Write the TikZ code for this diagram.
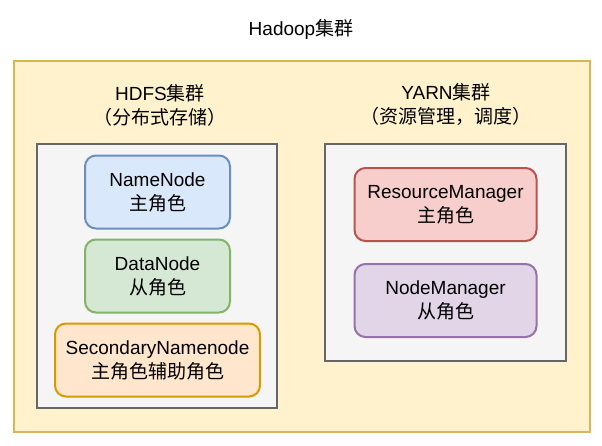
\documentclass[tikz,border=0pt]{standalone}
\usepackage{fontspec}
\setmainfont{Liberation Sans}
\newfontfamily\cjk{Noto Sans CJK SC}
\definecolor{ofill}{HTML}{FFF2CC}
\definecolor{ostroke}{HTML}{D6B656}
\definecolor{gfill}{HTML}{F5F5F5}
\definecolor{gstroke}{HTML}{666666}
\definecolor{bfill}{HTML}{DAE8FC}
\definecolor{bstroke}{HTML}{6C8EBF}
\definecolor{grfill}{HTML}{D5E8D4}
\definecolor{grstroke}{HTML}{82B366}
\definecolor{orfill}{HTML}{FFE6CC}
\definecolor{orstroke}{HTML}{D79B00}
\definecolor{rfill}{HTML}{F8CECC}
\definecolor{rstroke}{HTML}{B85450}
\definecolor{pfill}{HTML}{E1D5E7}
\definecolor{pstroke}{HTML}{9673A6}
\begin{document}
\begin{tikzpicture}[x=1pt,y=-1pt,
  txt/.style={font=\fontsize{19}{24}\selectfont, align=center, inner sep=0pt},
  role/.style={txt, rounded corners=11pt, line width=2pt, minimum height=73pt},
  cont/.style={line width=2pt, draw=gstroke, fill=gfill, inner sep=0pt}]
\useasboundingbox (0,0) rectangle (602,445);
\fill[white] (0,0) rectangle (602,445);
\node[txt] (title) at (301,29) {Hadoop{\cjk 集群}};
\draw[line width=2pt, draw=ostroke, fill=ofill] (14,61) rectangle (590,432);
\node[cont, minimum width=240pt, minimum height=264pt] (hdfsbox) at (157,276) {};
\node[cont, minimum width=241pt, minimum height=217pt] (yarnbox) at (445.5,252.5) {};
\node[txt] (hdfs) at (160,105) {HDFS{\cjk 集群}\\{\cjk （分布式存储）}};
\node[txt] (yarn) at (446,105) {YARN{\cjk 集群}\\{\cjk （资源管理，调度）}};
\node[role, draw=bstroke, fill=bfill, minimum width=145pt] (namenode) at (157.5,192) {NameNode\\{\cjk 主角色}};
\node[role, draw=grstroke, fill=grfill, minimum width=145pt] (datanode) at (157.5,276) {DataNode\\{\cjk 从角色}};
\node[role, draw=orstroke, fill=orfill, minimum width=205pt] (secondary) at (157.5,360) {SecondaryNamenode\\{\cjk 主角色辅助角色}};
\node[role, draw=rstroke, fill=rfill, minimum width=182pt] (rm) at (445.5,204.5) {ResourceManager\\{\cjk 主角色}};
\node[role, draw=pstroke, fill=pfill, minimum width=182pt] (nm) at (445.5,300.5) {NodeManager\\{\cjk 从角色}};
\end{tikzpicture}
\end{document}
